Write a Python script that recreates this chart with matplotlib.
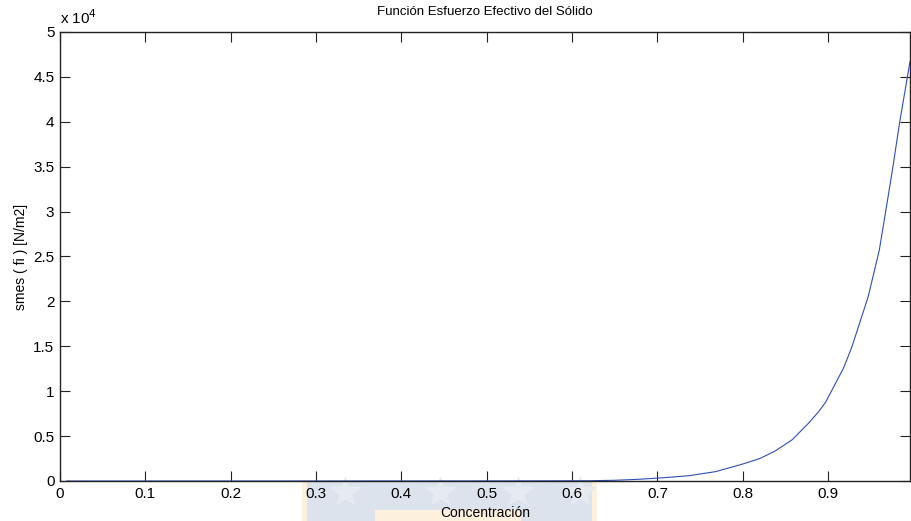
import matplotlib
matplotlib.use("Agg")
import matplotlib.pyplot as plt
from matplotlib.patches import Rectangle
from matplotlib.lines import Line2D

plt.rcParams["font.family"] = ["Liberation Sans", "DejaVu Sans"]

# curve (concentration vs effective solid stress, N/m2)
conc = [0.008, 0.1, 0.2, 0.3, 0.4, 0.5, 0.56, 0.6, 0.62, 0.65, 0.678, 0.708,
        0.737, 0.768, 0.799, 0.82, 0.838, 0.858, 0.877, 0.889, 0.897, 0.918,
        0.928, 0.947, 0.960, 0.9675, 0.976, 0.984, 0.996]
stress = [0, 0, 1, 3, 6, 12, 18, 25, 30, 80, 190, 370,
          590, 1040, 1860, 2500, 3340, 4600, 6430, 7720, 8760, 12550,
          14960, 20520, 25700, 30000, 35000, 40000, 46700]

x_ticks = [0, 0.1, 0.2, 0.3, 0.4, 0.5, 0.6, 0.7, 0.8, 0.9]
y_ticks = [0, 5000, 10000, 15000, 20000, 25000, 30000, 35000, 40000, 45000, 50000]
y_labels = ["0", "0.5", "1", "1.5", "2", "2.5", "3", "3.5", "4", "4.5", "5"]

fig = plt.figure(figsize=(9.11, 5.21), dpi=100)

# watermark strip under the x axis
fig.add_artist(Rectangle((302 / 911, 0), 295 / 911, 39 / 521,
                         transform=fig.transFigure, facecolor="#fdf0dc",
                         edgecolor="none", zorder=0))
fig.add_artist(Rectangle((307 / 911, 0), 285 / 911, 39 / 521,
                         transform=fig.transFigure, facecolor="#dde3ec",
                         edgecolor="none", zorder=0))
fig.add_artist(Rectangle((375 / 911, 0), 146 / 911, 11 / 521,
                         transform=fig.transFigure, facecolor="#fdf0dc",
                         edgecolor="none", zorder=0))
fig.add_artist(Line2D([345 / 911, 440 / 911, 518 / 911, 580 / 911],
                      [1 - 492 / 521] * 4, transform=fig.transFigure,
                      linestyle="none", marker="*", markersize=22,
                      color="#e6eaf1", zorder=0))

ax = fig.add_axes([60 / 911, 1 - 481 / 521, 850 / 911, 449 / 521])
ax.patch.set_alpha(0)
ax.plot(conc, stress, color="#2d4fb5", linewidth=0.8)

ax.set_xlim(0, 0.996)
ax.set_ylim(0, 50000)
ax.set_xticks(x_ticks)
ax.set_xticklabels([f"{t:g}" for t in x_ticks])
ax.set_yticks(y_ticks)
ax.set_yticklabels(y_labels)
ax.tick_params(direction="in", length=7, width=0.8, top=True, right=True,
               labelsize=11, pad=4, colors="#222222", labelcolor="black")
for s in ax.spines.values():
    s.set_linewidth(1.0)
    s.set_color("#222222")

ax.set_title("Función Esfuerzo Efectivo del Sólido", fontsize=9.5, pad=12)
ax.set_xlabel("Concentración", fontsize=10, labelpad=4)
ax.set_ylabel("smes ( fi ) [N/m2]", fontsize=10, labelpad=4)
ax.text(0, 1.012, r"x 10$^4$", transform=ax.transAxes, fontsize=11,
        ha="left", va="bottom")

fig.savefig("out.png", dpi=100)
